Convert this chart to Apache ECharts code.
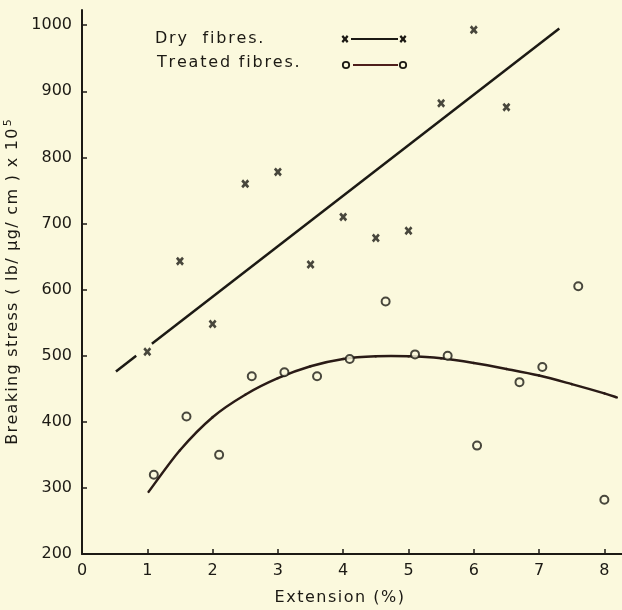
<!DOCTYPE html>
<html>
<head>
<meta charset="utf-8">
<script src="https://cdn.jsdelivr.net/npm/echarts@6/dist/echarts.min.js"></script>
<style>
  html, body { margin: 0; padding: 0; background: #fbf9dd; }
  #chart { width: 622px; height: 610px; }
</style>
</head>
<body>
<div id="chart"></div>
<script>
// Breaking stress versus extension for dry and treated fibres
const xTicks = [0, 1, 2, 3, 4, 5, 6, 7, 8];
const xTickMarks = [1, 2, 3, 4, 5, 6, 7, 8];
const yTicks = [200, 300, 400, 500, 600, 700, 800, 900, 1000];

// Measured points: [extension %, stress]
const dryPoints = [
  [1.0, 506], [1.5, 643], [2.0, 548], [2.5, 760], [3.0, 778],
  [3.5, 638], [4.0, 710], [4.5, 678], [5.0, 689], [5.5, 882],
  [6.0, 993], [6.5, 876]
];
const treatedPoints = [
  [1.1, 320], [1.6, 408], [2.1, 350], [2.6, 469], [3.1, 475],
  [3.6, 469], [4.1, 495], [4.65, 582], [5.1, 502], [5.6, 500],
  [6.05, 364], [6.7, 460], [7.05, 483], [7.6, 605], [8.0, 282]
];

// Fitted straight line for dry fibres (broken around the first point)
const dryFitStart = [[0.52, 476], [0.83, 500]];
const dryFitMain = [[1.07, 518], [7.31, 995]];

// Fitted curve for treated fibres
const treatedFit = [
  [1.02, 294], [1.5, 357], [2.0, 407], [2.5, 441], [3.0, 466],
  [3.5, 484], [4.0, 495], [4.5, 499], [5.0, 499], [5.5, 496],
  [6.0, 489], [6.5, 480], [7.0, 470], [7.5, 457], [8.0, 443], [8.19, 437]
];

const ink = '#1c1a14';
const bg = '#fbf9dd';
const font = 'DejaVu Sans';
const crossBase = [[0,2.3],[2.3,0],[5,2.7],[7.7,0],[10,2.3],[7.3,5],[10,7.7],[7.7,10],[5,7.3],[2.3,10],[0,7.7],[2.7,5]];
const crossPath = 'path://M' + crossBase.map(p => p[0] + ',' + p[1]).join('L') + 'Z';

// Cross outline as polygon points centred on (cx, cy)
function crossPoints(cx, cy, w, h) {
  return crossBase.map(p => [cx + (p[0] - 5) * w / 10, cy + (p[1] - 5) * h / 10]);
}

// Lettering with open spacing: one rich fragment per character
function spaced(str, key) {
  return str.split('').map(c => '{' + key + '|' + c + '}').join('');
}

// One Catmull-Rom segment of the fitted curve, drawn as a cubic Bezier in pixel space
function renderCurveSegment(params, api) {
  const i = params.dataIndex;
  const n = treatedFit.length;
  if (i >= n - 1) return null;
  const p0 = api.coord(treatedFit[Math.max(i - 1, 0)]);
  const p1 = api.coord(treatedFit[i]);
  const p2 = api.coord(treatedFit[i + 1]);
  const p3 = api.coord(treatedFit[Math.min(i + 2, n - 1)]);
  return {
    type: 'bezierCurve',
    shape: {
      x1: p1[0], y1: p1[1], x2: p2[0], y2: p2[1],
      cpx1: p1[0] + (p2[0] - p0[0]) / 6, cpy1: p1[1] + (p2[1] - p0[1]) / 6,
      cpx2: p2[0] - (p3[0] - p1[0]) / 6, cpy2: p2[1] - (p3[1] - p1[1]) / 6
    },
    style: { stroke: '#2a1b16', lineWidth: 2.5, fill: null, lineCap: 'round' }
  };
}

const chart = echarts.init(document.getElementById('chart'), null, { renderer: 'canvas' });

chart.setOption({
  backgroundColor: bg,
  animation: false,
  textStyle: { fontFamily: font, color: ink },
  grid: { left: 82, right: 0, top: 10, bottom: 56, containLabel: false, outerBoundsMode: 'none' },
  xAxis: {
    type: 'value',
    min: 0,
    max: 8.27,
    interval: 1,
    splitLine: { show: false },
    axisLine: { show: true, onZero: false, lineStyle: { color: ink, width: 2 } },
    axisTick: { show: true, inside: true, length: 5, customValues: xTickMarks, lineStyle: { color: ink, width: 1.5 } },
    axisLabel: { customValues: xTicks, color: ink, fontSize: 16, fontFamily: font, margin: 9,
      formatter: v => String(v) },
    name: spaced('Extension (%)', 'c'),
    nameLocation: 'middle',
    nameGap: 36,
    nameTextStyle: {
      padding: [0, 24, 0, 0],
      rich: { c: { fontSize: 16, fontFamily: font, color: ink, padding: [0, 1.5, 0, 0] } }
    }
  },
  yAxis: {
    type: 'value',
    min: 200,
    max: 1023,
    interval: 100,
    splitLine: { show: false },
    axisLine: { show: true, onZero: false, lineStyle: { color: ink, width: 2 } },
    axisTick: { show: true, inside: true, length: 5, customValues: yTicks, lineStyle: { color: ink, width: 1.5 } },
    axisLabel: { customValues: yTicks, color: ink, fontSize: 16, fontFamily: font, margin: 10,
      formatter: v => String(v) },
    name: spaced('Breaking stress ( lb/ µg/ cm ) x 10', 'c') + '{s|5}',
    nameLocation: 'middle',
    nameGap: 56,
    nameTextStyle: {
      rich: {
        c: { fontSize: 16, fontFamily: font, color: ink, padding: [0, 1.3, 0, 0] },
        s: { fontSize: 11, fontFamily: font, color: ink, verticalAlign: 'top', padding: [0, 0, 8, 1] }
      }
    }
  },
  series: [
    {
      name: 'Dry fit a', type: 'line', data: dryFitStart, showSymbol: false, silent: true,
      lineStyle: { color: ink, width: 2.5 }
    },
    {
      name: 'Dry fit b', type: 'line', data: dryFitMain, showSymbol: false, silent: true,
      lineStyle: { color: ink, width: 2.5 }
    },
    {
      name: 'Treated fit', type: 'custom', data: treatedFit, silent: true,
      encode: { x: 0, y: 1 },
      renderItem: renderCurveSegment
    },
    {
      name: 'Dry fibres', type: 'scatter', data: dryPoints, symbol: crossPath, symbolSize: [8, 9],
      itemStyle: { color: ink }
    },
    {
      name: 'Treated fibres', type: 'scatter', data: treatedPoints, symbol: 'circle', symbolSize: 8,
      itemStyle: { color: bg, borderColor: ink, borderWidth: 2 }
    }
  ],
  graphic: [
    { type: 'text', x: 155, y: 31, style: { text: spaced('Dry  fibres.', 'l'),
      rich: { l: { fontSize: 16, fontFamily: font, fill: ink, color: ink, padding: [0, 1.8, 0, 0] } } } },
    { type: 'text', x: 157, y: 55, style: { text: spaced('Treated fibres.', 'l'),
      rich: { l: { fontSize: 16, fontFamily: font, fill: ink, color: ink, padding: [0, 1.8, 0, 0] } } } },
    { type: 'polygon', shape: { points: crossPoints(345, 39, 7, 8) }, style: { fill: ink } },
    { type: 'line', shape: { x1: 351, y1: 39, x2: 398, y2: 39 }, style: { stroke: ink, lineWidth: 2 } },
    { type: 'polygon', shape: { points: crossPoints(403, 39, 7, 8) }, style: { fill: ink } },
    { type: 'circle', shape: { cx: 346, cy: 65, r: 3.2 }, style: { fill: bg, stroke: ink, lineWidth: 1.8 } },
    { type: 'line', shape: { x1: 353, y1: 65, x2: 398, y2: 65 }, style: { stroke: '#4e1f1c', lineWidth: 2 } },
    { type: 'circle', shape: { cx: 403, cy: 65, r: 3.2 }, style: { fill: bg, stroke: ink, lineWidth: 1.8 } }
  ]
});
</script>
</body>
</html>
